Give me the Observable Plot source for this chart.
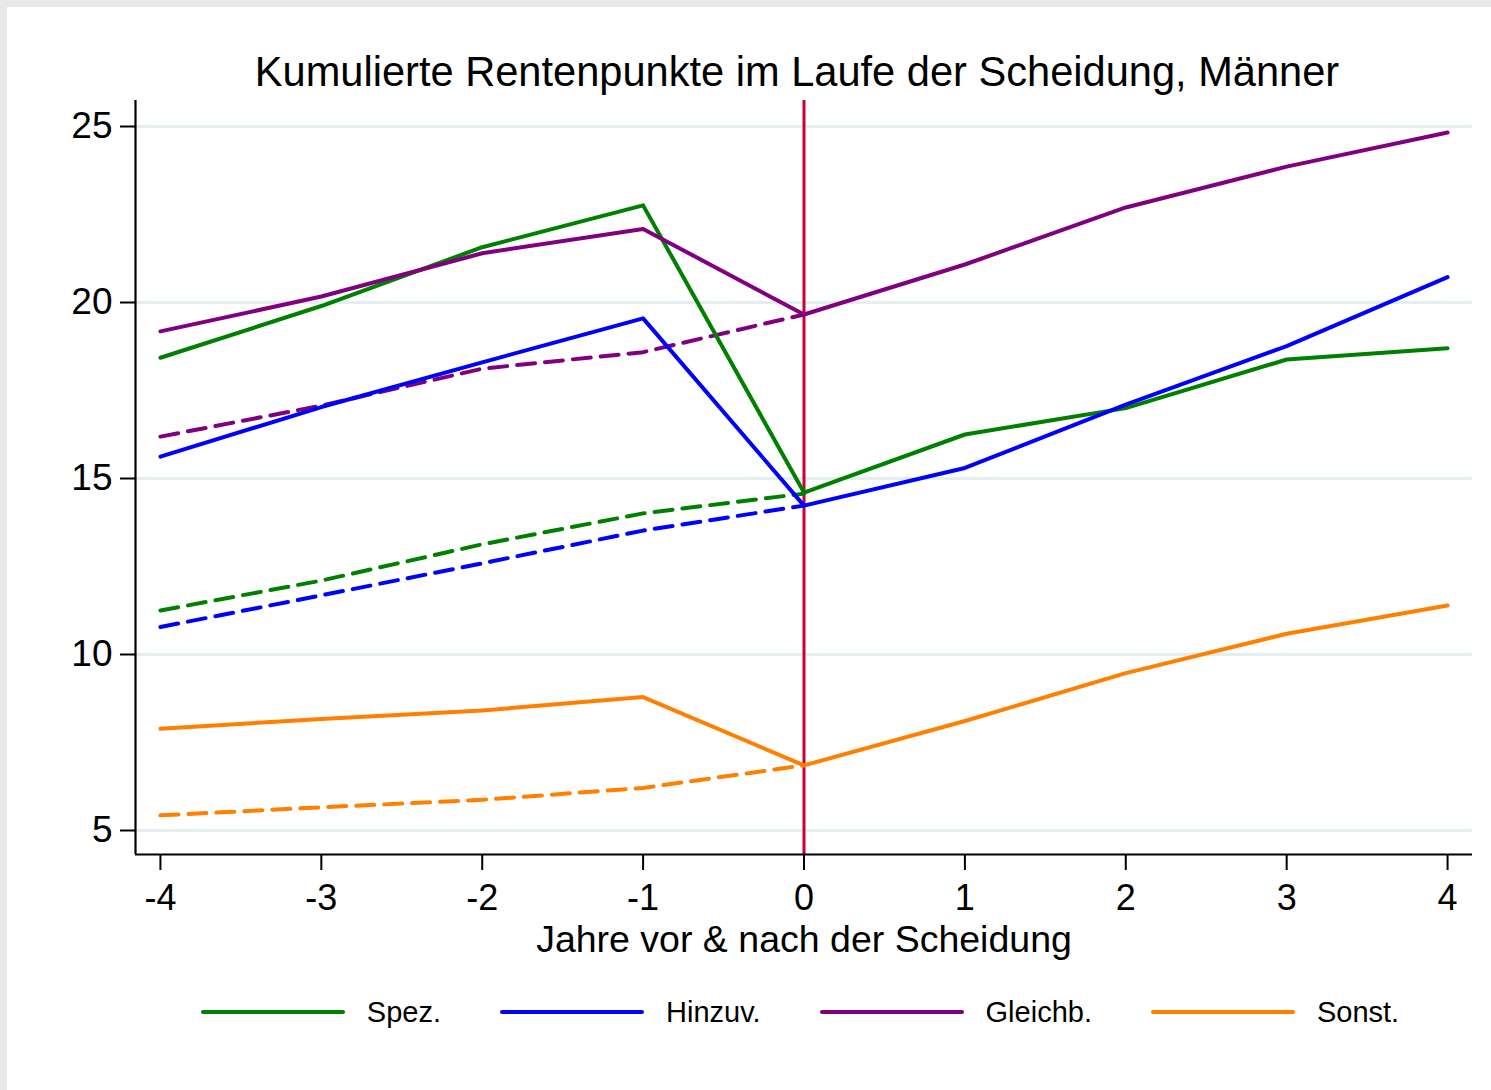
<!DOCTYPE html>
<html>
<head>
<meta charset="utf-8">
<script src="https://cdn.jsdelivr.net/npm/d3@7"></script>
<script src="https://cdn.jsdelivr.net/npm/@observablehq/plot@0.6"></script>
<style>
  html, body { margin: 0; padding: 0; background: #e8e8e8; }
  #page { position: relative; width: 1491px; height: 1090px; overflow: hidden; background: #e8e8e8;
          font-family: "Liberation Sans", Arial, Helvetica, sans-serif; color: #000; }
  #sheet { position: absolute; left: 7px; top: 7px; width: 1484px; height: 1083px; background: #fff; }
  #title { position: absolute; left: 100px; width: 1394px; top: 51px; height: 42px; line-height: 42px;
           font-size: 41.6px; text-align: center; white-space: nowrap; }
  #chart { position: absolute; left: 0; top: 96px; }
  #legend { position: absolute; left: 0; width: 1600px; top: 990px; height: 44px;
            display: flex; justify-content: center; align-items: center; gap: 59px; }
  .item { display: flex; align-items: center; gap: 22px; }
  .swatch { width: 144px; height: 4px; border-radius: 2px; }
  .lab { font-size: 29px; line-height: 29px; white-space: nowrap; }
</style>
</head>
<body>
<div id="page">
  <div id="sheet"></div>
  <div id="title">Kumulierte Rentenpunkte im Laufe der Scheidung, Männer</div>
  <div id="chart"></div>
  <div id="legend"></div>
</div>
<script>
// ---- data ----
const years = [-4, -3, -2, -1, 0, 1, 2, 3, 4];
const preYears = [-4, -3, -2, -1, 0];
const groups = ["Spez.", "Hinzuv.", "Gleichb.", "Sonst."];
const colors = ["#008000", "#0000ff", "#800080", "#ff8000"];

// solid lines (actual), years -4..4
const spez    = [18.43, 19.90, 21.57, 22.76, 14.60, 16.25, 17.00, 18.38, 18.70];
const hinzuv  = [15.62, 17.03, 18.30, 19.55, 14.23, 15.30, 17.10, 18.76, 20.72];
const gleichb = [19.18, 20.17, 21.40, 22.09, 19.66, 21.08, 22.70, 23.86, 24.83];
const sonst   = [7.89, 8.17, 8.41, 8.79, 6.85, 8.11, 9.47, 10.59, 11.39];

// dashed lines, years -4..0
const spezDash    = [11.25, 12.10, 13.13, 14.01, 14.57];
const hinzuvDash  = [10.78, 11.68, 12.59, 13.52, 14.23];
const gleichbDash = [16.19, 17.07, 18.12, 18.59, 19.66];
const sonstDash   = [5.43, 5.66, 5.87, 6.21, 6.85];

const yTicks = [5, 10, 15, 20, 25];
const xTicks = years;
const xTitle = "Jahre vor & nach der Scheidung";

// ---- tables ----
const solidSeries = [spez, hinzuv, gleichb, sonst];
const dashSeries = [spezDash, hinzuvDash, gleichbDash, sonstDash];
const solid = groups.flatMap((g, i) => years.map((yr, j) => ({group: g, year: yr, value: solidSeries[i][j]})));
const dashed = groups.flatMap((g, i) => preYears.map((yr, j) => ({group: g, year: yr, value: dashSeries[i][j]})));

const xDomain = [-4.155, 4.155];
const yDomain = [4.318, 25.739];

const chart = Plot.plot({
  width: 1491,
  height: 870,
  marginLeft: 135,
  marginRight: 19,
  marginTop: 4,
  marginBottom: 112,
  style: {fontFamily: '"Liberation Sans", Arial, Helvetica, sans-serif', fontSize: "37px", color: "#000", background: "transparent", overflow: "visible"},
  x: {domain: xDomain},
  y: {domain: yDomain},
  color: {domain: groups, range: colors},
  marks: [
    Plot.gridY(yTicks, {stroke: "#e4edf0", strokeOpacity: 1, strokeWidth: 3}),
    Plot.ruleX([0], {stroke: "#cc0033", strokeWidth: 3}),
    Plot.line(dashed, {x: "year", y: "value", z: "group", stroke: "group", strokeWidth: 4, strokeDasharray: "18,10"}),
    Plot.line(solid, {x: "year", y: "value", z: "group", stroke: "group", strokeWidth: 4}),
    Plot.ruleX([xDomain[0]], {stroke: "#000", strokeWidth: 2.2}),
    Plot.ruleY([yDomain[0]], {stroke: "#000", strokeWidth: 2.2}),
    Plot.axisY(yTicks, {tickSize: 15, tickPadding: 8, fontSize: 37, strokeWidth: 2, label: null, tickFormat: d => String(d)}),
    Plot.axisX(xTicks, {tickSize: 16, tickPadding: 14, fontSize: 36, strokeWidth: 2, label: null, tickFormat: d => String(d)}),
    Plot.text([xTitle], {text: d => d, frameAnchor: "bottom", dy: 85, fontSize: 37.5, lineAnchor: "middle", fill: "#000"})
  ]
});
document.getElementById("chart").appendChild(chart);

// legend
const legend = document.getElementById("legend");
groups.forEach((g, i) => {
  const item = document.createElement("div");
  item.className = "item";
  const sw = document.createElement("div");
  sw.className = "swatch";
  sw.style.background = colors[i];
  const lab = document.createElement("span");
  lab.className = "lab";
  lab.textContent = g;
  item.appendChild(sw);
  item.appendChild(lab);
  legend.appendChild(item);
});
</script>
</body>
</html>
